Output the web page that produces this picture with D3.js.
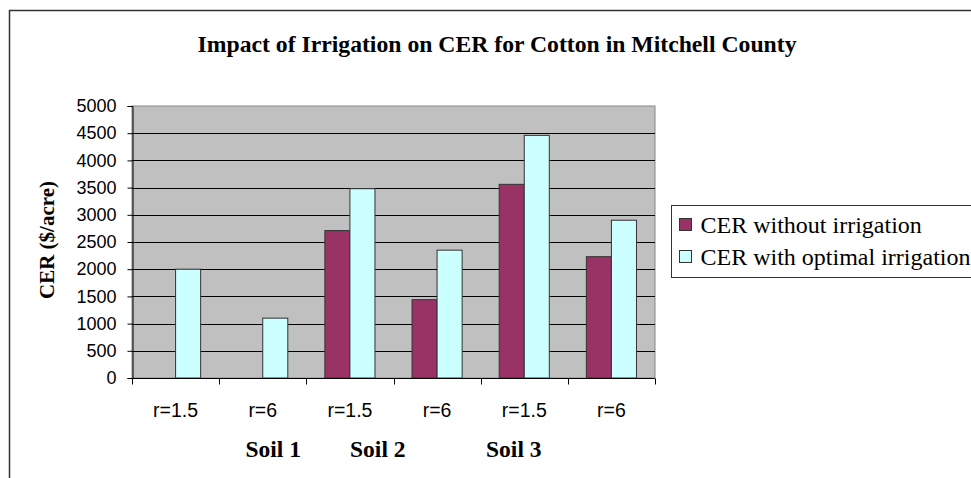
<!DOCTYPE html>
<html>
<head>
<meta charset="utf-8">
<script src="https://cdn.jsdelivr.net/npm/d3@7"></script>
<style>
  body { margin: 0; background: #fff; }
  svg { display: block; }
</style>
</head>
<body>
<svg width="971" height="478"></svg>
<script>
const title = 'Impact of Irrigation on CER for Cotton in Mitchell County';
const yTitle = 'CER ($/acre)';
const categories = ['r=1.5', 'r=6', 'r=1.5 ', 'r=6 ', 'r=1.5  ', 'r=6  '];
const soils = ['Soil 1', 'Soil 2', 'Soil 3'];
const seriesNames = ['CER without irrigation', 'CER with optimal irrigation'];
const withoutIrr = [0, 0, 2710, 1440, 3560, 2230];
const withIrr = [2000, 1100, 3480, 2350, 4460, 2900];
const yTicks = [0, 500, 1000, 1500, 2000, 2500, 3000, 3500, 4000, 4500, 5000];

const colors = ['#993366', '#ccffff'];
const serif = '"Liberation Serif", "Times New Roman", serif';
const sans = '"Liberation Sans", Arial, sans-serif';

const svg = d3.select('svg');

// chart frame
svg.append('rect')
    .attr('x', 9.5).attr('y', 10.5)
    .attr('width', 980).attr('height', 480)
    .attr('fill', '#fff')
    .attr('stroke', '#333').attr('stroke-width', 1.5);

const plot = { left: 132, right: 655, top: 106, bottom: 378 };

const x = d3.scaleBand()
    .domain(d3.range(categories.length))
    .range([plot.left, plot.right])
    .padding(0);

const xs = d3.scaleBand()
    .domain(d3.range(seriesNames.length))
    .range([0, x.bandwidth()])
    .paddingInner(0)
    .paddingOuter(0.74);

const y = d3.scaleLinear()
    .domain([0, 5000])
    .range([plot.bottom, plot.top]);

// plot area
svg.append('rect')
    .attr('x', plot.left).attr('y', plot.top)
    .attr('width', plot.right - plot.left).attr('height', plot.bottom - plot.top)
    .attr('fill', '#c0c0c0')
    .attr('stroke', '#888').attr('stroke-width', 1);

svg.append('g')
    .selectAll('line')
    .data(yTicks.filter(d => d > 0 && d < 5000))
    .enter().append('line')
    .attr('x1', plot.left).attr('x2', plot.right)
    .attr('y1', d => Math.round(y(d)) + 0.5).attr('y2', d => Math.round(y(d)) + 0.5)
    .attr('stroke', '#000').attr('stroke-width', 1);

// bars
const rows = categories.map((c, i) => [withoutIrr[i], withIrr[i]]);
const grp = svg.append('g')
    .selectAll('g')
    .data(rows)
    .enter().append('g')
    .attr('transform', (d, i) => `translate(${x(i)},0)`);

grp.selectAll('rect')
    .data(d => d.map((v, s) => ({ v, s })))
    .enter().append('rect')
    .filter(d => d.v > 0)
    .attr('x', d => xs(d.s))
    .attr('y', d => y(d.v))
    .attr('width', xs.bandwidth())
    .attr('height', d => y(0) - y(d.v))
    .attr('fill', d => colors[d.s])
    .attr('stroke', '#333').attr('stroke-width', 1);

// y axis
const yAxis = svg.append('g')
    .attr('transform', `translate(${plot.left + 0.5},0)`)
    .call(d3.axisLeft(y).tickValues(yTicks).tickSize(5).tickPadding(11).tickFormat(d3.format('d')));
yAxis.select('.domain').attr('stroke', '#000');
yAxis.selectAll('.tick line').attr('stroke', '#000');
yAxis.selectAll('text')
    .attr('font-family', sans).attr('font-size', 18).attr('fill', '#000');

// x axis: separators between categories
const xAxis = svg.append('g')
    .attr('transform', `translate(0,${plot.bottom + 0.5})`);
xAxis.append('line')
    .attr('x1', plot.left).attr('x2', plot.right)
    .attr('stroke', '#000');
xAxis.selectAll('.sep')
    .data(d3.range(categories.length + 1))
    .enter().append('line')
    .attr('x1', i => Math.round(plot.left + i * x.step()) + 0.5)
    .attr('x2', i => Math.round(plot.left + i * x.step()) + 0.5)
    .attr('y1', 0).attr('y2', 6)
    .attr('stroke', '#000');

svg.append('g')
    .selectAll('text')
    .data(categories)
    .enter().append('text')
    .attr('x', (d, i) => x(i) + x.bandwidth() / 2)
    .attr('y', 417)
    .attr('text-anchor', 'middle')
    .attr('font-family', sans).attr('font-size', 19.5)
    .text(d => d.trim());

// soil labels sit under the category row, placed by category position
const soilAt = [1.12, 2.32, 3.88];
svg.append('g')
    .selectAll('text')
    .data(soils)
    .enter().append('text')
    .attr('x', (d, i) => plot.left + (soilAt[i] + 0.5) * x.step())
    .attr('y', 457)
    .attr('text-anchor', 'middle')
    .attr('font-family', serif).attr('font-weight', 'bold').attr('font-size', 23.5)
    .text(d => d);

// titles
svg.append('text')
    .attr('x', 497).attr('y', 52)
    .attr('text-anchor', 'middle')
    .attr('font-family', serif).attr('font-weight', 'bold').attr('font-size', 23.7)
    .text(title);

svg.append('text')
    .attr('transform', 'translate(54,240) rotate(-90)')
    .attr('text-anchor', 'middle')
    .attr('font-family', serif).attr('font-weight', 'bold').attr('font-size', 21)
    .text(yTitle);

// legend
const legend = svg.append('g').attr('transform', 'translate(671.5,205.5)');
legend.append('rect')
    .attr('width', 320).attr('height', 72)
    .attr('fill', '#fff').attr('stroke', '#333');
const li = legend.selectAll('g')
    .data(seriesNames)
    .enter().append('g')
    .attr('transform', (d, i) => `translate(8,${19 + i * 32})`);
li.append('rect')
    .attr('x', 0).attr('y', -6).attr('width', 12).attr('height', 12)
    .attr('fill', (d, i) => colors[i]).attr('stroke', '#333');
li.append('text')
    .attr('x', 21).attr('y', 8)
    .attr('font-family', serif).attr('font-size', 24)
    .text(d => d);
</script>
</body>
</html>
